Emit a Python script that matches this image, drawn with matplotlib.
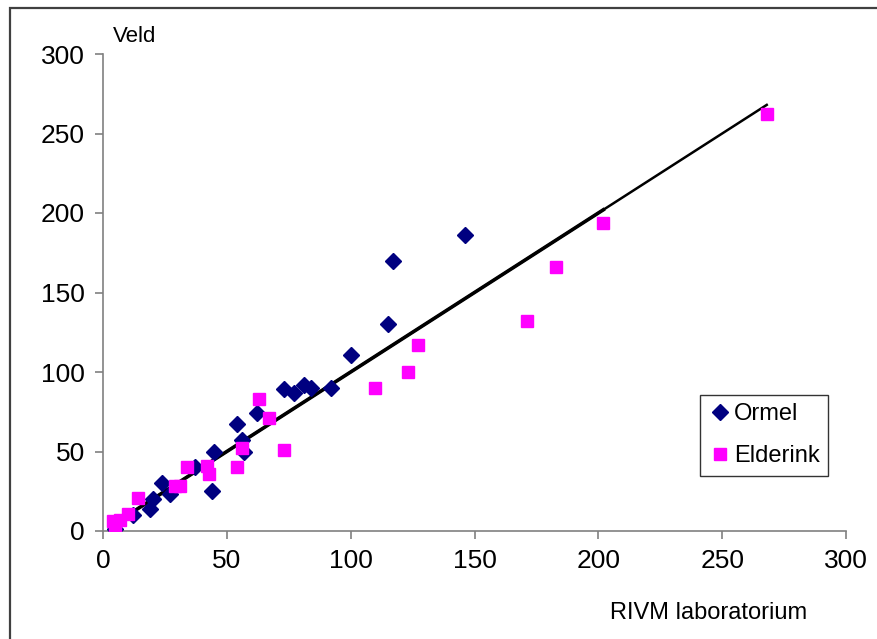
import matplotlib.pyplot as plt
from matplotlib.patches import Rectangle

plt.rcParams['font.family'] = ['Liberation Sans', 'DejaVu Sans']

# Ormel measurements (RIVM lab vs field)
ormel_lab = [5, 12, 19, 20, 24, 27, 37, 44, 45, 54, 56, 57, 62, 73, 77, 81, 84, 92, 100, 115, 117, 146]
ormel_veld = [1, 10, 14, 20, 30, 23, 40, 25, 50, 67, 57, 50, 74, 89, 87, 92, 90, 90, 111, 130, 170, 186]

# Elderink measurements
elderink_lab = [4, 5, 7, 10, 14, 29, 31, 34, 42, 43, 54, 56, 63, 67, 73, 110, 123, 127, 171, 183, 202, 268]
elderink_veld = [6, 3, 7, 11, 21, 28, 28, 40, 41, 36, 40, 52, 83, 71, 51, 90, 100, 117, 132, 166, 194, 262]

# 1:1 reference lines
line_short = [5, 202]
line_long = [5, 268]

fig = plt.figure(figsize=(8.77, 6.39), dpi=100)
ax = fig.add_axes([103 / 877, 1 - 531 / 639, 743 / 877, 477 / 639])

ax.plot(line_short, line_short, color='black', lw=2.6, zorder=2)
ax.plot(line_long, line_long, color='black', lw=1.8, zorder=2)
ax.plot(ormel_lab, ormel_veld, 'D', color='#000080', ms=8.5, mec='#000080',
        ls='none', label='Ormel', zorder=3)
ax.plot(elderink_lab, elderink_veld, 's', color='#FF00FF', ms=8.5, mec='#FF00FF',
        ls='none', label='Elderink', zorder=4)

ax.set_xlim(0, 300)
ax.set_ylim(0, 300)
ax.set_xticks(range(0, 301, 50))
ax.set_yticks(range(0, 301, 50))
for side in ['top', 'right']:
    ax.spines[side].set_visible(False)
for side in ['left', 'bottom']:
    ax.spines[side].set_color('#808080')
    ax.spines[side].set_linewidth(1.2)
ax.tick_params(direction='out', length=6, width=1.2, color='#808080',
               labelsize=19, pad=7)

fig.text(113 / 877, 1 - 37 / 639, 'Veld', fontsize=16, va='center', ha='left')
fig.text(709 / 877, 1 - 613 / 639, 'RIVM laboratorium', fontsize=17,
         va='center', ha='center')

leg = ax.legend(loc='upper left', bbox_to_anchor=((700 - 103) / 743, (531 - 395) / 477),
                fontsize=17, frameon=True, fancybox=False, handletextpad=0.1,
                handlelength=1.0, borderpad=0.35, labelspacing=0.85, borderaxespad=0)
leg.get_frame().set_edgecolor('black')
leg.get_frame().set_linewidth(1.0)

# outer chart frame
fig.patches.append(Rectangle((10 / 877, -0.1), 1.2, 1 - 8 / 639 + 0.1,
                             transform=fig.transFigure, fill=False,
                             edgecolor='#404040', lw=1.6))

fig.savefig('out.png', dpi=100)
